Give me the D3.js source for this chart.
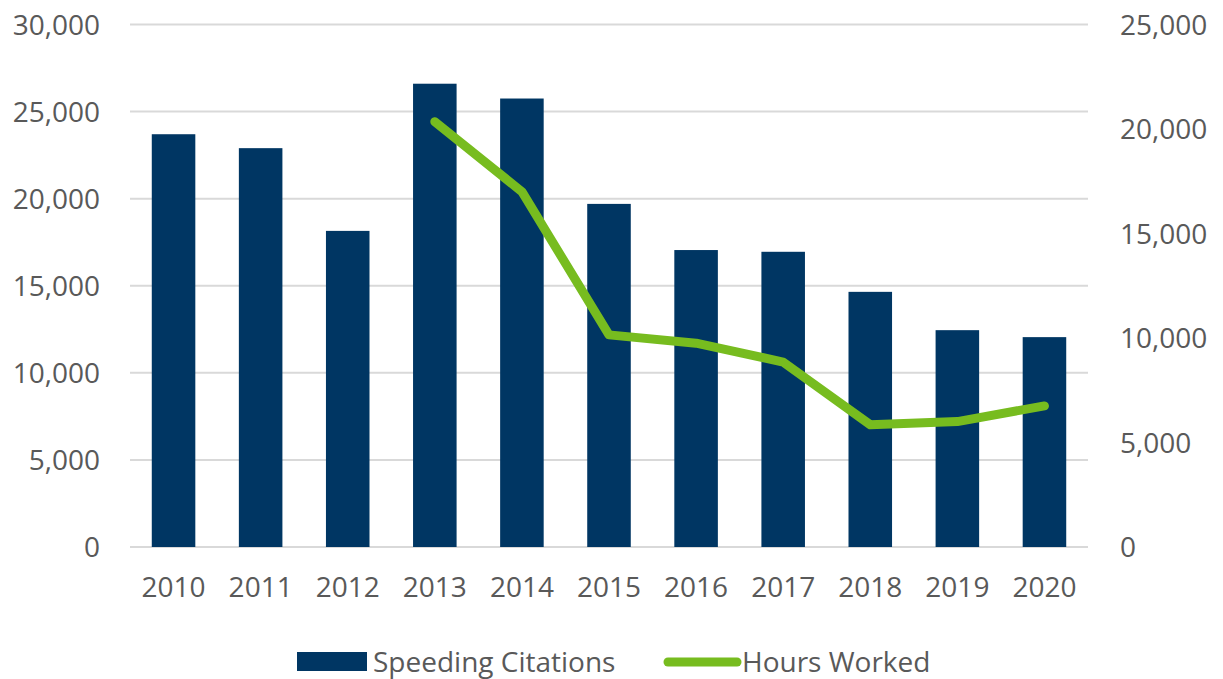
<!DOCTYPE html>
<html lang="en">
<head>
<meta charset="UTF-8">
<style>
  body { margin: 0; background: #fff; }
  text { font-family: "Open Sans", sans-serif; fill: #595959; }
</style>
</head>
<body>
<div id="chart"></div>
<script src="https://cdn.jsdelivr.net/npm/d3@7"></script>
<script>
// chart data
var years = ["2010", "2011", "2012", "2013", "2014", "2015", "2016", "2017", "2018", "2019", "2020"];
var citations = [23700, 22900, 18150, 26600, 25750, 19700, 17050, 16950, 14650, 12450, 12050];
var hoursYears = ["2013", "2014", "2015", "2016", "2017", "2018", "2019", "2020"];
var hours = [20350, 17000, 10150, 9750, 8850, 5850, 6000, 6750];
var leftTicks = [0, 5000, 10000, 15000, 20000, 25000, 30000];
var rightTicks = [0, 5000, 10000, 15000, 20000, 25000];

var width = 1223, height = 679;
var plotL = 130, plotR = 1088, plotT = 24.5, plotB = 547;

var svg = d3.select("#chart").append("svg")
    .attr("width", width)
    .attr("height", height);

var x = d3.scaleBand().domain(years).range([plotL, plotR])
    .paddingInner(0.5).paddingOuter(0.25);
var yL = d3.scaleLinear().domain([0, 30000]).range([plotB, plotT]);
var yR = d3.scaleLinear().domain([0, 25000]).range([plotB, plotT]);
var fmt = d3.format(",");

// gridlines
svg.selectAll(".grid")
    .data(leftTicks)
    .enter().append("line")
    .attr("x1", plotL).attr("x2", plotR)
    .attr("y1", function (d) { return yL(d); })
    .attr("y2", function (d) { return yL(d); })
    .attr("stroke", "#d9d9d9")
    .attr("stroke-width", 2);

// left axis
var axL = svg.append("g").attr("transform", "translate(" + (plotL - 30) + ",0)")
    .call(d3.axisLeft(yL).tickValues(leftTicks).tickFormat(fmt).tickSize(0).tickPadding(0));
axL.select(".domain").remove();
axL.selectAll("text").style("font-size", "28px").attr("dy", "0.35em").attr("fill", "#595959");

// right axis
var axR = svg.append("g").attr("transform", "translate(" + (plotR + 32) + ",0)")
    .call(d3.axisRight(yR).tickValues(rightTicks).tickFormat(fmt).tickSize(0).tickPadding(0));
axR.select(".domain").remove();
axR.selectAll("text").style("font-size", "28px").attr("dy", "0.35em").attr("fill", "#595959");

// bottom axis
var axB = svg.append("g").attr("transform", "translate(0," + plotB + ")")
    .call(d3.axisBottom(x).tickSize(0).tickPadding(30));
axB.select(".domain").remove();
axB.selectAll("text").style("font-size", "28px").attr("fill", "#595959");

// bars
svg.selectAll(".bar")
    .data(citations)
    .enter().append("rect")
    .attr("x", function (d, i) { return x(years[i]); })
    .attr("y", function (d) { return yL(d); })
    .attr("width", x.bandwidth())
    .attr("height", function (d) { return plotB - yL(d); })
    .attr("fill", "#003663");

// line
var line = d3.line()
    .x(function (d, i) { return x(hoursYears[i]) + x.bandwidth() / 2; })
    .y(function (d) { return yR(d); });

svg.append("path")
    .datum(hours)
    .attr("d", line)
    .attr("fill", "none")
    .attr("stroke", "#77bc1f")
    .attr("stroke-width", 9)
    .attr("stroke-linecap", "round")
    .attr("stroke-linejoin", "round");

// legend
var lg = svg.append("g");
lg.append("rect").attr("x", 297).attr("y", 652).attr("width", 70).attr("height", 19).attr("fill", "#003663");
lg.append("text").attr("x", 373).attr("y", 662).attr("dy", "0.35em")
    .style("font-size", "28px").text("Speeding Citations");
lg.append("line").attr("x1", 668).attr("x2", 737).attr("y1", 662).attr("y2", 662)
    .attr("stroke", "#77bc1f").attr("stroke-width", 9).attr("stroke-linecap", "round");
lg.append("text").attr("x", 742).attr("y", 662).attr("dy", "0.35em")
    .style("font-size", "28px").text("Hours Worked");
</script>
</body>
</html>
